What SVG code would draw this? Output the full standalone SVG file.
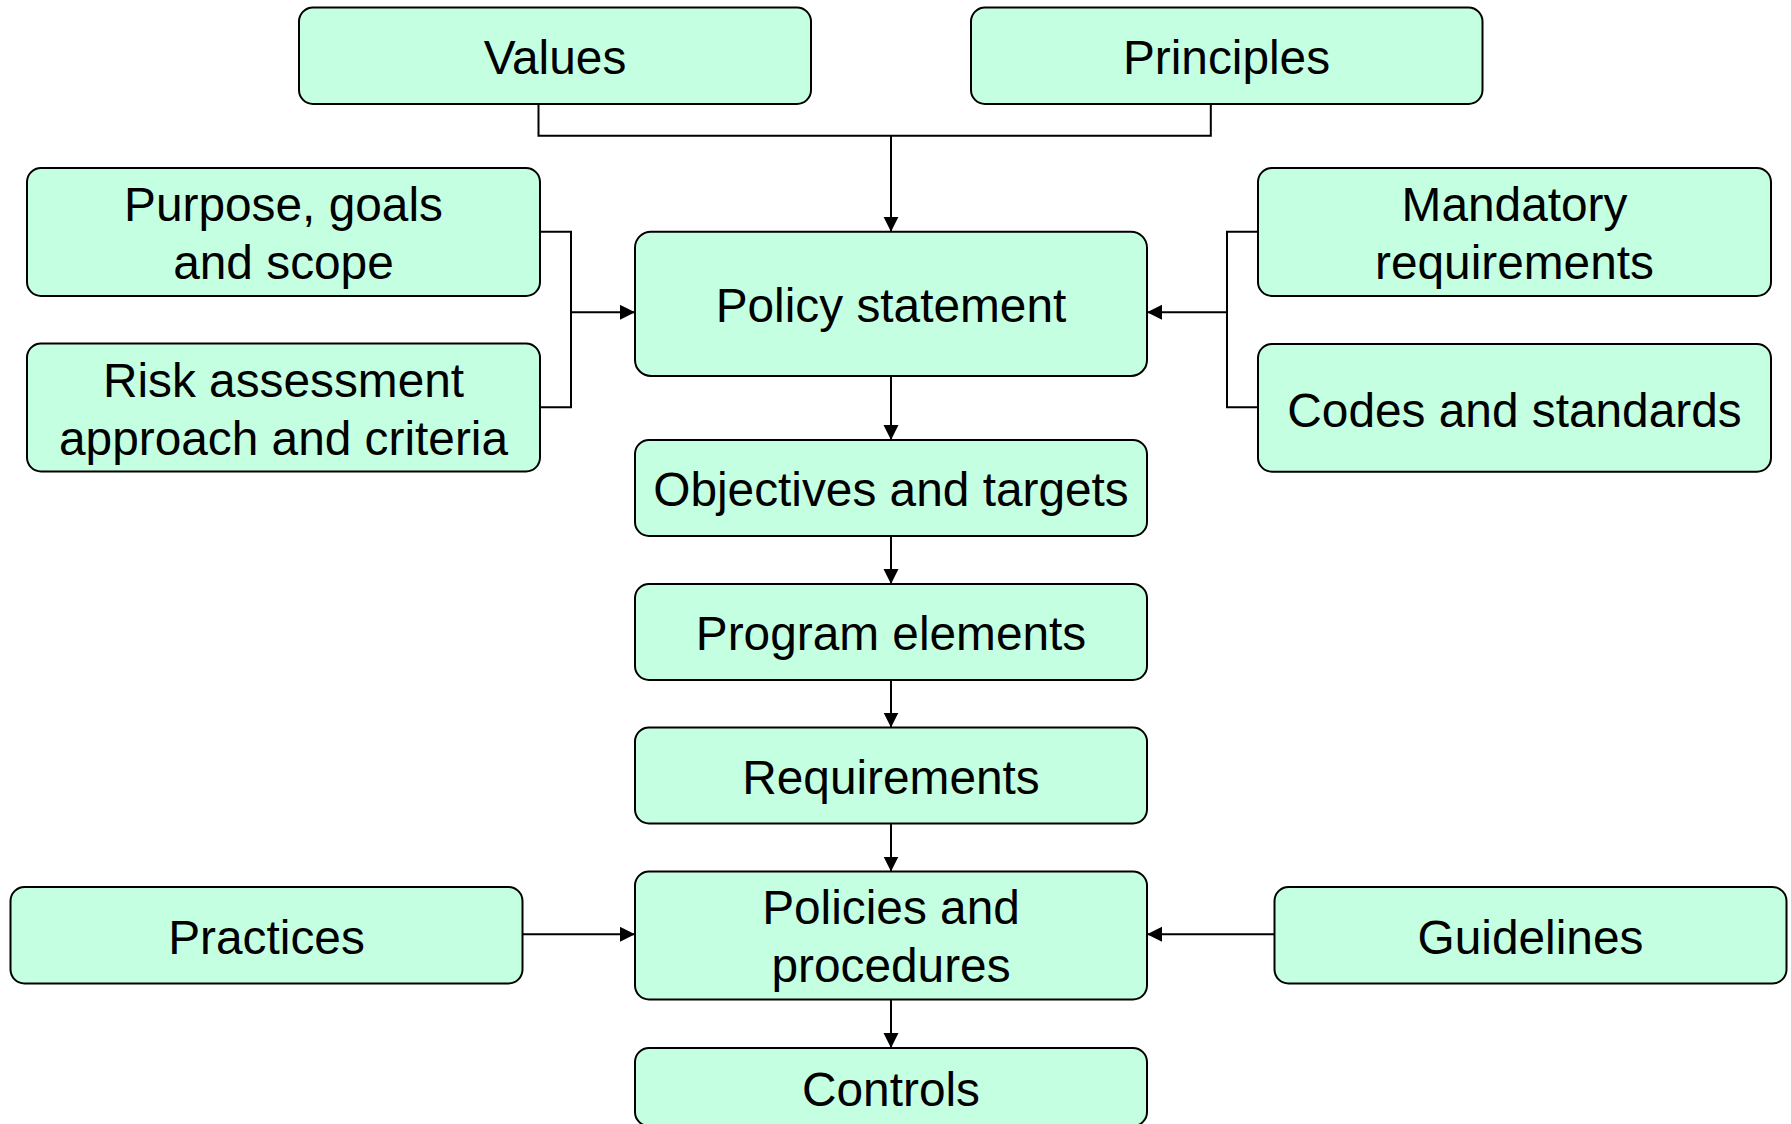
<svg xmlns="http://www.w3.org/2000/svg" width="1791" height="1124" viewBox="0 0 1791 1124">
  <style>
    .box { fill: #C5FFE1; stroke: #000000; stroke-width: 2; }
    .lbl { font-family: "Liberation Sans", Arial, sans-serif; font-size: 47.8px; fill: #000000; text-anchor: middle; }
    .wire { fill: none; stroke: #000000; stroke-width: 2; }
    .arrow { fill: none; stroke: #000000; stroke-width: 2; marker-end: url(#head); }
  </style>
  <defs>
    <marker id="head" markerUnits="userSpaceOnUse" markerWidth="16" markerHeight="16" refX="15" refY="7.5" orient="auto">
      <path d="M0,0 L15,7.5 L0,15 Z" fill="#000000"/>
    </marker>
  </defs>
  <rect width="1791" height="1124" fill="#FFFFFF"/>

  <!-- connectors -->
  <g id="connectors">
    <polyline class="wire" points="538.5,104 538.5,135.7 1210.8,135.7 1210.8,104"/>
    <line class="arrow" x1="891" y1="135.7" x2="891" y2="231.7"/>
    <polyline class="wire" points="540,231.7 571,231.7 571,407.3 540,407.3"/>
    <line class="arrow" x1="571" y1="312.3" x2="635" y2="312.3"/>
    <polyline class="wire" points="1258,231.7 1227,231.7 1227,407.3 1258,407.3"/>
    <line class="arrow" x1="1227" y1="312.3" x2="1147" y2="312.3"/>
    <line class="arrow" x1="891" y1="376" x2="891" y2="440"/>
    <line class="arrow" x1="891" y1="536" x2="891" y2="584"/>
    <line class="arrow" x1="891" y1="680" x2="891" y2="727.5"/>
    <line class="arrow" x1="891" y1="823.5" x2="891" y2="871.5"/>
    <line class="arrow" x1="891" y1="999.5" x2="891" y2="1048"/>
    <line class="arrow" x1="522.5" y1="934.3" x2="635" y2="934.3"/>
    <line class="arrow" x1="1274.5" y1="934.3" x2="1147" y2="934.3"/>
  </g>

  <g id="values">
    <rect class="box" x="299" y="7.5" width="512" height="96.5" rx="14"/>
    <text class="lbl" x="555" y="74">Values</text>
  </g>
  <g id="principles">
    <rect class="box" x="971" y="7.5" width="511.5" height="96.5" rx="14"/>
    <text class="lbl" x="1226.5" y="74">Principles</text>
  </g>
  <g id="purpose">
    <rect class="box" x="27" y="168" width="513" height="128" rx="14"/>
    <text class="lbl" x="283.5" y="221">Purpose, goals</text>
    <text class="lbl" x="283.5" y="278.5">and scope</text>
  </g>
  <g id="risk">
    <rect class="box" x="27" y="343.5" width="513" height="128" rx="14"/>
    <text class="lbl" x="283.5" y="396.5">Risk assessment</text>
    <text class="lbl" x="283.5" y="454.5">approach and criteria</text>
  </g>
  <g id="policy-statement">
    <rect class="box" x="635" y="231.7" width="512" height="144.3" rx="16"/>
    <text class="lbl" x="891" y="322">Policy statement</text>
  </g>
  <g id="mandatory">
    <rect class="box" x="1258" y="168" width="513" height="128" rx="14"/>
    <text class="lbl" x="1514.5" y="221">Mandatory</text>
    <text class="lbl" x="1514.5" y="278.5">requirements</text>
  </g>
  <g id="codes">
    <rect class="box" x="1258" y="344" width="513" height="127.7" rx="14"/>
    <text class="lbl" x="1514.5" y="426.5">Codes and standards</text>
  </g>
  <g id="objectives">
    <rect class="box" x="635" y="440" width="512" height="96" rx="14"/>
    <text class="lbl" x="891" y="506">Objectives and targets</text>
  </g>
  <g id="program">
    <rect class="box" x="635" y="584" width="512" height="96" rx="14"/>
    <text class="lbl" x="891" y="650">Program elements</text>
  </g>
  <g id="requirements">
    <rect class="box" x="635" y="727.5" width="512" height="96" rx="14"/>
    <text class="lbl" x="891" y="793.5">Requirements</text>
  </g>
  <g id="policies">
    <rect class="box" x="635" y="871.5" width="512" height="128" rx="14"/>
    <text class="lbl" x="891" y="924">Policies and</text>
    <text class="lbl" x="891" y="981.5">procedures</text>
  </g>
  <g id="practices">
    <rect class="box" x="10.5" y="887" width="512" height="96.5" rx="14"/>
    <text class="lbl" x="266.5" y="953.5">Practices</text>
  </g>
  <g id="guidelines">
    <rect class="box" x="1274.5" y="887" width="512" height="96.5" rx="14"/>
    <text class="lbl" x="1530.5" y="953.5">Guidelines</text>
  </g>
  <g id="controls">
    <rect class="box" x="635" y="1048" width="512" height="78" rx="14"/>
    <text class="lbl" x="891" y="1105.5">Controls</text>
  </g>
</svg>
